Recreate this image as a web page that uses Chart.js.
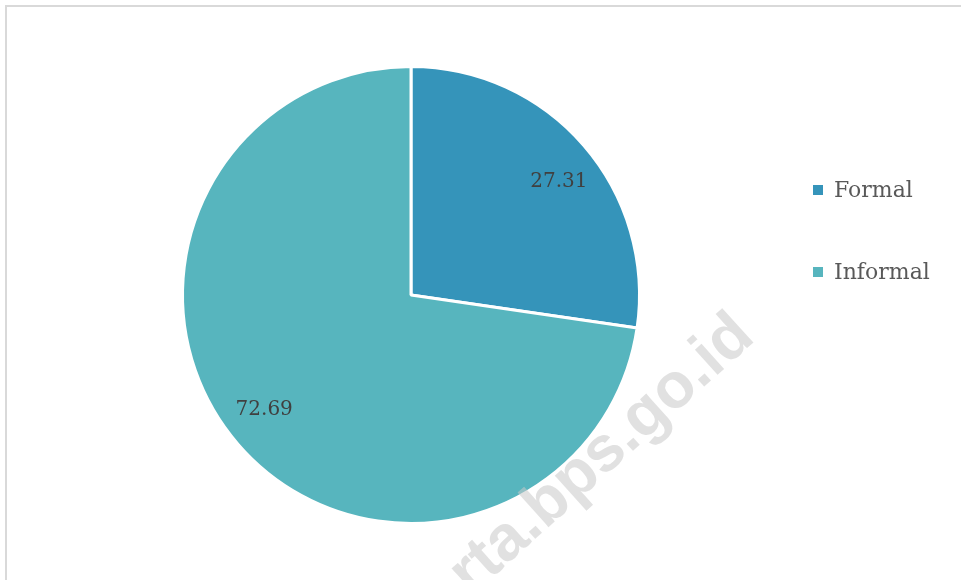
<!DOCTYPE html>
<html>
<head>
<meta charset="utf-8">
<script src="https://cdn.jsdelivr.net/npm/chart.js@4"></script>
<style>
html,body{margin:0;padding:0;background:#fff;}
#wrap{position:relative;width:961px;height:580px;}
</style>
</head>
<body>
<div id="wrap"><canvas id="c" width="961" height="580"></canvas></div>
<script>
const categories = ["Formal", "Informal"];
const values = [27.31, 72.69];
const colors = ["#3594ba", "#57b5be"];
const watermark = "rta.bps.go.id";

const FONT = '"DejaVu Serif", serif';

const framePlugin = {
  id: 'frame',
  beforeDraw(chart) {
    const ctx = chart.ctx;
    ctx.save();
    ctx.fillStyle = '#fff';
    ctx.fillRect(0, 0, chart.width, chart.height);
    ctx.strokeStyle = '#d9d9d9';
    ctx.lineWidth = 2;
    ctx.strokeRect(6, 6, chart.width + 20, chart.height + 20);
    ctx.restore();
  }
};

const labelsPlugin = {
  id: 'sliceLabels',
  afterDatasetsDraw(chart) {
    const ctx = chart.ctx;
    const meta = chart.getDatasetMeta(0);
    ctx.save();
    ctx.font = '20px ' + FONT;
    ctx.fillStyle = '#404040';
    ctx.textAlign = 'center';
    ctx.textBaseline = 'middle';
    meta.data.forEach((arc, i) => {
      const p = arc.getProps(['x', 'y', 'startAngle', 'endAngle', 'outerRadius'], true);
      const mid = (p.startAngle + p.endAngle) / 2 + (i === 0 ? 0.06 : 0.05);
      const r = p.outerRadius * 0.815;
      ctx.fillText(values[i].toFixed(2), p.x + Math.cos(mid) * r, p.y + Math.sin(mid) * r);
    });
    // legend
    ctx.textAlign = 'left';
    ctx.font = '22px ' + FONT;
    const ys = [190, 272];
    categories.forEach((c, i) => {
      ctx.fillStyle = colors[i];
      ctx.fillRect(813, ys[i] - 5, 10, 10);
      ctx.fillStyle = '#595959';
      ctx.fillText(c, 834, ys[i] + 1);
    });
    // watermark
    ctx.translate(602, 455);
    ctx.rotate(-42 * Math.PI / 180);
    ctx.font = 'bold 64px "Liberation Sans", Arial, sans-serif';
    ctx.fillStyle = 'rgba(200,200,200,0.55)';
    ctx.textAlign = 'center';
    ctx.fillText(watermark, 0, 0);
    ctx.restore();
  }
};

new Chart(document.getElementById('c'), {
  type: 'pie',
  data: {
    labels: categories,
    datasets: [{
      data: values,
      backgroundColor: colors,
      borderColor: '#ffffff',
      borderWidth: 3
    }]
  },
  options: {
    responsive: false,
    animation: false,
    layout: { padding: { top: 65, bottom: 55, left: 181, right: 320 } },
    plugins: { legend: { display: false }, tooltip: { enabled: false } }
  },
  plugins: [framePlugin, labelsPlugin]
});
</script>
</body>
</html>
